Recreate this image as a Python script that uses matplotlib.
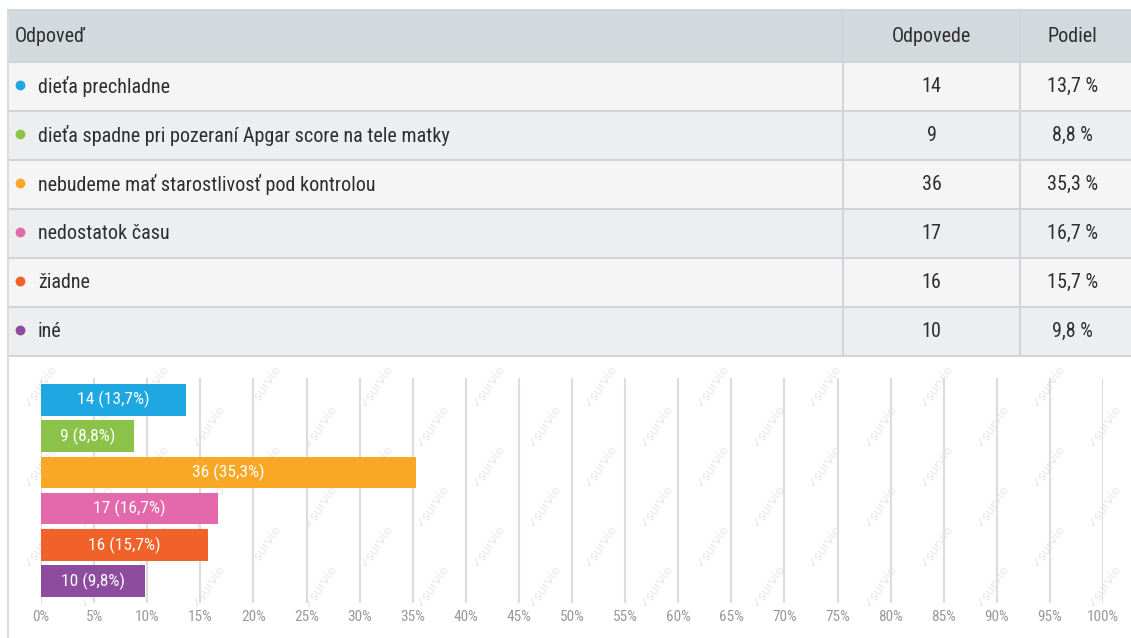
import matplotlib
matplotlib.use("Agg")
import matplotlib.pyplot as plt
from matplotlib.patches import Rectangle
from matplotlib import font_manager

answers = ["dieťa prechladne",
           "dieťa spadne pri pozeraní Apgar score na tele matky",
           "nebudeme mať starostlivosť pod kontrolou",
           "nedostatok času",
           "žiadne",
           "iné"]
counts = [14, 9, 36, 17, 16, 10]
shares = [13.7, 8.8, 35.3, 16.7, 15.7, 9.8]
colors = ["#1ea7e1", "#8bc34a", "#f9a825", "#e468ac", "#f0622a", "#8e4c9e"]
headers = ["Odpoveď", "Odpovede", "Podiel"]
xticks = list(range(0, 101, 5))

names = {f.name for f in font_manager.fontManager.ttflist}
fam = ["Liberation Sans Narrow", "Roboto Condensed", "Open Sans", "DejaVu Sans"]
fam = [f for f in fam if f in names] + ["DejaVu Sans"]
plt.rcParams["font.family"] = fam

W, H = 1131, 638
fig = plt.figure(figsize=(W / 100, H / 100), dpi=100)
fig.patch.set_facecolor("white")

ov = fig.add_axes([0, 0, 1, 1])
ov.set_xlim(0, W)
ov.set_ylim(H, 0)
ov.axis("off")

left, right = 8, 1131
top = 10
hdr_h = 52
row_h = 49
col1, col2 = 843, 1020
fs = 14.5
tc = "#2e2e2e"

ov.add_patch(Rectangle((left, top), right - left, hdr_h, facecolor="#d3dadd", edgecolor="none", zorder=1))
ov.text(15, top + hdr_h / 2, headers[0], fontsize=fs, color=tc, va="center", ha="left", zorder=3)
ov.text((col1 + col2) / 2, top + hdr_h / 2, headers[1], fontsize=fs, color=tc, va="center", ha="center", zorder=3)
ov.text((col2 + right) / 2 - 3, top + hdr_h / 2, headers[2], fontsize=fs, color=tc, va="center", ha="center", zorder=3)

y0 = top + hdr_h
for i, (a, c, s, col) in enumerate(zip(answers, counts, shares, colors)):
    yt = y0 + i * row_h
    bg = "#f5f5f5" if i % 2 == 0 else "#eceeef"
    ov.add_patch(Rectangle((left, yt), right - left, row_h, facecolor=bg, edgecolor="none", zorder=1))
    ov.plot([left, right], [yt, yt], color="#cfd6da", lw=1.5, zorder=2)
    yc = yt + row_h / 2
    ov.scatter([20], [yc - 2], s=50, color=col, zorder=3, linewidths=0)
    ov.text(38, yc, a, fontsize=fs, color=tc, va="center", ha="left", zorder=3)
    ov.text((col1 + col2) / 2, yc, str(c), fontsize=fs, color=tc, va="center", ha="center", zorder=3)
    ov.text((col2 + right) / 2 - 3, yc, f"{s:.1f} %".replace(".", ","), fontsize=fs, color=tc,
            va="center", ha="center", zorder=3)
tbl_bot = y0 + len(answers) * row_h
ov.plot([left, right], [tbl_bot, tbl_bot], color="#cfd6da", lw=1.5, zorder=2)
ov.plot([left, right], [top, top], color="#cfd6da", lw=1.5, zorder=2)
for xc in (col1, col2):
    ov.plot([xc, xc], [top, tbl_bot], color="#cfd6da", lw=1.5, zorder=2)
ov.plot([left, left], [top, H], color="#d8dde0", lw=1.5, zorder=2)

# watermark (kept fully inside the picture)
for yy in range(tbl_bot + 30, H - 20, 80):
    for k, xx in enumerate(range(40, W - 20, 56)):
        dy = (k % 2) * 40
        if yy + dy > H - 25:
            continue
        ov.text(xx, yy + dy, "✓survio", fontsize=9, color="#e8e8e8", rotation=55,
                ha="center", va="center", zorder=1.5, family=["DejaVu Sans"])

ax_l, ax_r = 41, 1103
ax_t, ax_b = 378, 603
ax = fig.add_axes([ax_l / W, 1 - ax_b / H, (ax_r - ax_l) / W, (ax_b - ax_t) / H])
ax.patch.set_alpha(0)
ax.set_xlim(0, 100)
n = len(answers)
ax.set_ylim(n - 0.5 + 0.1, -0.5 - 0.1)
ypos = list(range(n))
ax.barh(ypos, shares, height=0.87, color=colors, zorder=3)
for y, c, s in zip(ypos, counts, shares):
    ax.text(s / 2, y, f"{c} ({s:.1f}%)".replace(".", ","), color="white", fontsize=12.5,
            ha="center", va="center", zorder=4)
ax.set_xticks(xticks)
ax.set_xticklabels([f"{t}%" for t in xticks], color="#999999", fontsize=11)
ax.grid(axis="x", color="#dddddd", lw=1.5, zorder=1)
ax.set_yticks([])
ax.tick_params(axis="x", length=0, pad=5)
for sp in ax.spines.values():
    sp.set_visible(False)

fig.savefig("out.png", dpi=100, facecolor="white")
